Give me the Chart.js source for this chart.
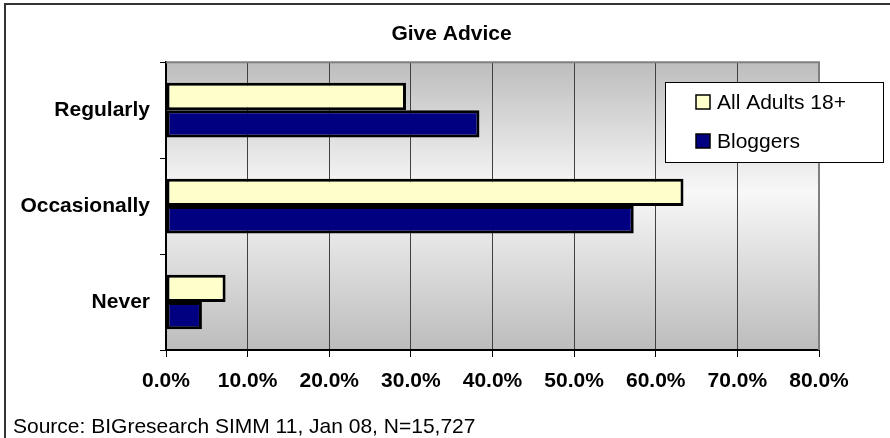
<!DOCTYPE html>
<html>
<head>
<meta charset="utf-8">
<script src="https://cdn.jsdelivr.net/npm/chart.js@4.4.1/dist/chart.umd.min.js"></script>
<style>
  html, body { margin: 0; padding: 0; background: #fff; overflow: hidden; }
  #wrap { position: relative; width: 890px; height: 438px; }
  #frame { position: absolute; left: 4px; top: 3px; right: -10px; bottom: -10px;
           border-top: 2px solid #333; border-left: 2px solid #333; }
  #chart { position: absolute; left: 0; top: 0; }
</style>
</head>
<body>
<div id="wrap">
  <div id="frame"></div>
  <canvas id="chart" width="890" height="438"></canvas>
</div>
<script>
const categories = ["Regularly", "Occasionally", "Never"];
const allAdults = [29.4, 63.4, 7.3];
const bloggers = [38.4, 57.3, 4.4];
const tickLabels = ["0.0%", "10.0%", "20.0%", "30.0%", "40.0%", "50.0%", "60.0%", "70.0%", "80.0%"];

const FONT = "'Liberation Sans', Arial, sans-serif";

// plot area gradient + gray top/right edge
const plotBackground = {
    id: "plotBackground",
    beforeDraw(chart) {
        const { ctx, chartArea: a } = chart;
        const g = ctx.createLinearGradient(0, a.top, 0, a.bottom);
        g.addColorStop(0, "#bdbdbd");
        g.addColorStop(0.45, "#f8f8f8");
        g.addColorStop(1, "#bcbcbc");
        ctx.save();
        ctx.fillStyle = g;
        ctx.fillRect(a.left, a.top, a.right - a.left, a.bottom - a.top);
        ctx.restore();
    },
    beforeDatasetsDraw(chart) {
        const { ctx, chartArea: a } = chart;
        ctx.save();
        ctx.strokeStyle = "#808080";
        ctx.lineWidth = 2;
        ctx.beginPath();
        ctx.moveTo(a.left, a.top);
        ctx.lineTo(a.right, a.top);
        ctx.lineTo(a.right, a.bottom);
        ctx.stroke();
        ctx.restore();
    }
};

// legend box sitting inside the plot, like the original
const boxLegend = {
    id: "boxLegend",
    afterDraw(chart) {
        const ctx = chart.ctx;
        ctx.save();
        ctx.fillStyle = "#fff";
        ctx.strokeStyle = "#000";
        ctx.lineWidth = 1;
        ctx.fillRect(665, 82, 218, 80);
        ctx.strokeRect(665.5, 82.5, 218, 80);
        ctx.font = "21px " + FONT;
        ctx.textBaseline = "middle";
        chart.data.datasets.forEach((ds, i) => {
            const y = 102 + i * 39;
            ctx.fillStyle = ds.backgroundColor;
            ctx.fillRect(696, y - 7, 14, 14);
            ctx.lineWidth = 1.5;
            ctx.strokeStyle = "#000";
            ctx.strokeRect(696, y - 7, 14, 14);
            ctx.fillStyle = "#000";
            ctx.fillText(ds.label, 717, y + 1);
        });
        ctx.restore();
    }
};

new Chart(document.getElementById("chart"), {
    type: "bar",
    data: {
        labels: categories,
        datasets: [
            {
                label: "All Adults 18+",
                data: allAdults,
                backgroundColor: "#ffffcc",
                borderColor: "#000",
                borderWidth: 3,
                borderSkipped: false
            },
            {
                label: "Bloggers",
                data: bloggers,
                backgroundColor: "#000080",
                borderColor: "#000",
                borderWidth: 3,
                borderSkipped: false
            }
        ]
    },
    options: {
        indexAxis: "y",
        responsive: false,
        animation: false,
        events: [],
        categoryPercentage: 0.57,
        barPercentage: 1.0,
        layout: { padding: { left: 13, right: 0, top: 0, bottom: 0 } },
        plugins: {
            legend: { display: false },
            tooltip: { enabled: false },
            title: {
                display: true,
                text: "Give Advice",
                color: "#000",
                font: { family: FONT, size: 21, weight: "bold", lineHeight: 1.2 },
                padding: { top: 22, bottom: 15 }
            },
            subtitle: {
                display: true,
                position: "bottom",
                align: "start",
                text: "Source: BIGresearch SIMM 11, Jan 08, N=15,727",
                color: "#000",
                font: { family: FONT, size: 21, weight: "normal", lineHeight: 1 },
                padding: { top: 18, bottom: 0 }
            }
        },
        scales: {
            x: {
                min: 0,
                max: 80,
                ticks: {
                    stepSize: 10,
                    color: "#000",
                    padding: 12,
                    font: { family: FONT, size: 21, weight: "bold" },
                    callback: (v, i) => tickLabels[i]
                },
                grid: { color: "#404040", lineWidth: 1, tickLength: 7, tickColor: "#000" },
                border: { color: "#000", width: 2 },
                afterFit(s) { s.height = 49; }
            },
            y: {
                ticks: {
                    color: "#000",
                    padding: 10,
                    font: { family: FONT, size: 21, weight: "bold" }
                },
                grid: { offset: true, drawOnChartArea: false, tickLength: 6, color: "#000" },
                border: { color: "#000", width: 2 },
                afterFit(s) { s.width = 153; }
            },
            spacer: {
                type: "linear",
                position: "right",
                display: true,
                grid: { display: false },
                border: { display: false },
                ticks: { display: false },
                afterFit(s) { s.width = 71; }
            }
        }
    },
    plugins: [plotBackground, boxLegend]
});
</script>
</body>
</html>
